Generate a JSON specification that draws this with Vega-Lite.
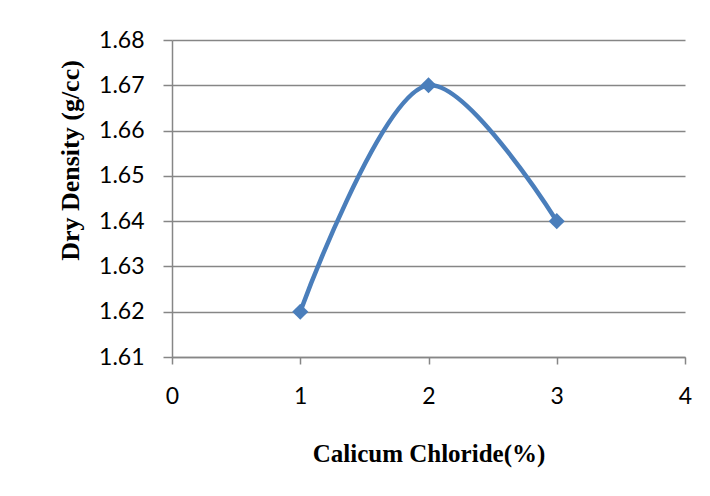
{
  "$schema": "https://vega.github.io/schema/vega-lite/v6.json",
  "width": 513,
  "height": 317,
  "autosize": {"type": "none"},
  "padding": {"left": 172, "top": 40, "right": 25, "bottom": 139},
  "background": "white",
  "config": {"view": {"stroke": null}},
  "data": {"values": [
    {"cacl2": 1, "density": 1.62},
    {"cacl2": 2, "density": 1.67},
    {"cacl2": 3, "density": 1.64}
  ]},
  "encoding": {
    "x": {"field": "cacl2", "type": "quantitative",
      "scale": {"domain": [0, 4], "nice": false, "zero": false},
      "axis": {"values": [0, 1, 2, 3, 4], "title": "Calicum Chloride(%)", "grid": false,
        "domainColor": "#868686", "domainWidth": 1.5, "tickColor": "#868686", "tickWidth": 1.5, "tickSize": 7,
        "labelFont": "Lato", "labelFontSize": 23, "labelColor": "#000000", "labelPadding": 21,
        "labelFlush": false,
        "titleFont": "Liberation Serif", "titleFontSize": 25, "titleFontWeight": "bold", "titleColor": "#000000",
        "titleY": 96, "titleBaseline": "middle"}},
    "y": {"field": "density", "type": "quantitative",
      "scale": {"domain": [1.61, 1.68], "nice": false, "zero": false},
      "axis": {"values": [1.61, 1.62, 1.63, 1.64, 1.65, 1.66, 1.67, 1.68], "format": ".2f",
        "title": "Dry Density (g/cc)", "grid": true, "gridColor": "#868686", "gridWidth": 1.5, "gridOpacity": 1,
        "domainColor": "#868686", "domainWidth": 1.5, "tickColor": "#868686", "tickWidth": 1.5, "tickSize": 9,
        "labelFont": "Lato", "labelFontSize": 23, "labelColor": "#000000", "labelPadding": 19,
        "labelFlush": false,
        "titleFont": "Liberation Serif", "titleFontSize": 26, "titleFontWeight": "bold", "titleColor": "#000000",
        "titleAngle": -90, "titleX": -102, "titleY": 120, "titleBaseline": "middle", "titleAlign": "center"}}
  },
  "layer": [
    {"mark": {"type": "line", "interpolate": "catmull-rom", "color": "#4a7ebb", "strokeWidth": 4.5}},
    {"mark": {"type": "point", "shape": "diamond", "filled": true, "color": "#4a7ebb", "opacity": 1, "size": 260}}
  ]
}
